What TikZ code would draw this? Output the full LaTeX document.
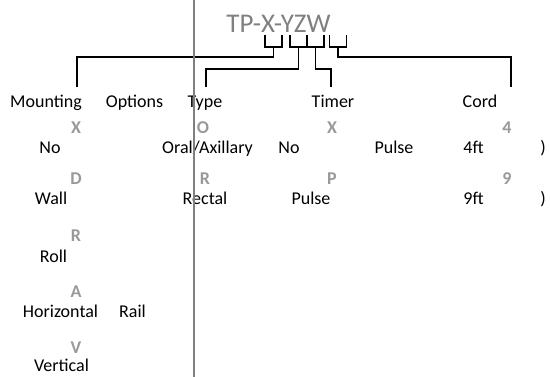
\documentclass[tikz,border=0pt]{standalone}
\usepackage{fontspec}
\setmainfont{Carlito}
\usetikzlibrary{positioning}

\begin{document}
\begin{tikzpicture}[x=1pt, y=-1pt,
    lbl/.style={anchor=base, inner sep=0pt, font=\fontsize{18}{20}\selectfont},
    code/.style={lbl, font=\fontsize{18}{20}\selectfont\bfseries, text=gray!80},
    conn/.style={line width=1.6pt, black},
    bracket/.style={line width=1.4pt, black}
]
    \useasboundingbox (0,0) rectangle (550,377);
    \node[anchor=base, inner sep=0pt, text=gray, font=\fontsize{27}{30}\selectfont] (title) at (278.5,33) {TP-X-YZW};
    \foreach \n/\x in {X/273.5, Y/298.5, Z/315.5, W/338} {
        \draw[bracket] (\x-8.5,35) |- (\x+8.5,47) -- (\x+8.5,35);
        \coordinate (b\n) at (\x,47);
    }
    \foreach \name/\x/\txt in {mount/46/Mounting, opts/134.5/Options, type/205/Type, timer/333/Timer, cord/480/Cord} {
        \node[lbl] (\name) at (\x,108) {\txt};
    }
    \coordinate (mtop) at (77,87);
    \coordinate (ttop) at (206,87);
    \coordinate (tmtop) at (331,87);
    \coordinate (ctop) at (511,87);
    \draw[conn] (bX) -- ++(0,10) -| (mtop);
    \draw[conn] (bY) -- ++(0,22) -| (ttop);
    \draw[conn] (bZ) -- ++(0,22) -| (tmtop);
    \draw[conn] (bW) -- ++(0,10) -| (ctop);
    \foreach \name/\x/\y/\txt in {cX/76/133.5/X, cD/76/185/D, cR/76/242/R, cA/76/298/A, cV/76/354/V,
        cO/203/133.5/O, cRe/205/185/R, cTX/332/133.5/X, cP/332/185/P, c4/507/133.5/4, c9/507/185/9} {
        \node[code] (\name) at (\x,\y) {\txt};
    }
    \foreach \name/\x/\y/\txt in {tNo/50/153.5/No, tWall/51/205/Wall, tRoll/53.5/263/Roll,
        tHor/60.5/318/Horizontal, tRail/132.5/318/Rail, tVert/61.5/372/Vertical,
        tRect/205/205/Rectal, tNoT/289/153.5/No, tPul/394/153.5/Pulse, tPul2/311/205/Pulse,
        t4/473.5/153.5/4ft, t9/473.5/205/9ft, tp4/543/153.5/), tp9/543/205/)} {
        \node[lbl] (\name) at (\x,\y) {\txt};
    }
    \node[lbl] (tOral) at (207.5,153.5) {Oral/Axillary};
    \draw[line width=2pt, gray] (194,0) -- (194,377);
\end{tikzpicture}
\end{document}
